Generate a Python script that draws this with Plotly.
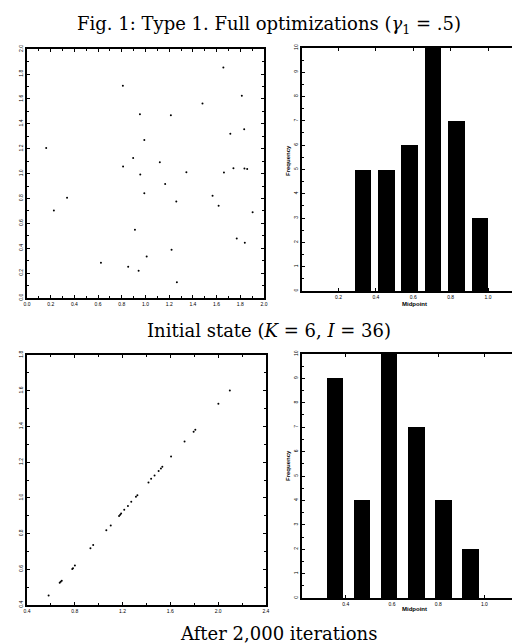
import plotly.graph_objects as go

# ---------------- data ----------------
init_x = [0.162, 0.227, 0.338, 0.624, 0.809, 0.811, 0.854, 0.896, 0.911, 0.942, 0.953, 0.956,
          0.990, 0.990, 1.010, 1.121, 1.166, 1.214, 1.220, 1.260, 1.265, 1.345, 1.481, 1.566,
          1.617, 1.657, 1.662, 1.716, 1.742, 1.770, 1.813, 1.833, 1.835, 1.838, 1.858, 1.904]
init_y = [1.206, 0.703, 0.805, 0.283, 1.706, 1.056, 0.251, 1.126, 0.548, 0.219, 1.476, 0.992,
          1.270, 0.842, 0.334, 1.091, 0.917, 1.468, 0.388, 0.775, 0.126, 1.011, 1.564, 0.821,
          0.741, 1.853, 1.008, 1.321, 1.043, 0.479, 1.626, 1.356, 1.040, 0.444, 1.037, 0.690]

final_x = [0.581, 0.674, 0.682, 0.691, 0.779, 0.785, 0.801, 0.931, 0.954, 1.064, 1.101, 1.171,
           1.180, 1.188, 1.214, 1.245, 1.273, 1.312, 1.324, 1.417, 1.439, 1.468, 1.502, 1.521,
           1.533, 1.606, 1.719, 1.795, 1.809, 2.002, 2.098]
final_y = [0.454, 0.525, 0.531, 0.536, 0.602, 0.606, 0.622, 0.718, 0.736, 0.819, 0.845, 0.899,
           0.905, 0.912, 0.933, 0.955, 0.978, 1.006, 1.015, 1.086, 1.107, 1.125, 1.150, 1.164,
           1.174, 1.232, 1.316, 1.370, 1.381, 1.527, 1.602]

init_mid = [0.33, 0.455, 0.58, 0.705, 0.83, 0.955]
init_freq = [5, 5, 6, 10, 7, 3]
final_mid = [0.352, 0.469, 0.587, 0.704, 0.822, 0.938]
final_freq = [9, 4, 10, 7, 4, 2]

title_top = "Fig. 1: Type 1. Full optimizations (<i>γ</i><sub>1</sub> = .5)"
title_mid = "Initial state (<i>K</i> = 6, <i>I</i> = 36)"
title_bot = "After 2,000 iterations"

# ---------------- figure ----------------
fig = go.Figure()

fig.add_trace(go.Scatter(x=init_x, y=init_y, mode="markers",
                         marker=dict(color="black", size=2), xaxis="x", yaxis="y"))
fig.add_trace(go.Bar(x=init_mid, y=init_freq, width=[0.089] * len(init_mid),
                     marker=dict(color="black", line=dict(width=0)), xaxis="x2", yaxis="y2"))
fig.add_trace(go.Scatter(x=final_x, y=final_y, mode="markers",
                         marker=dict(color="black", size=2), xaxis="x3", yaxis="y3"))
fig.add_trace(go.Bar(x=final_mid, y=final_freq, width=[0.072] * len(final_mid),
                     marker=dict(color="black", line=dict(width=0)), xaxis="x4", yaxis="y4"))

tickfont = dict(family="Liberation Sans", size=5, color="black")


def ax(domain, rng, tickvals, minor_d=None, angle=0, anchor=None):
    d = dict(domain=domain, range=rng, tickvals=tickvals,
             ticktext=[f"{v:.1f}" for v in tickvals],
             showgrid=False, zeroline=False, showline=True, linecolor="black",
             linewidth=1.5, mirror="allticks", ticks="inside", ticklen=3,
             tickcolor="black", tickwidth=1, tickfont=tickfont, tickangle=angle,
             automargin=False, anchor=anchor, fixedrange=True)
    if minor_d is not None:
        d["minor"] = dict(dtick=minor_d, ticks="inside", ticklen=2,
                          tickcolor="black", showgrid=False)
    return d


def r(a, b, s):
    out = []
    v = a
    while v <= b + 1e-9:
        out.append(round(v, 3))
        v += s
    return out


fig.update_layout(
    width=520, height=643,
    margin=dict(l=0, r=0, t=0, b=0),
    paper_bgcolor="white", plot_bgcolor="white",
    showlegend=False, bargap=0,
    xaxis=ax([0.0365, 0.4923], [0, 2.0], r(0, 2.0, 0.2), 0.1, 0, "y"),
    yaxis=ax([0.549, 0.936], [0, 2.0], r(0, 2.0, 0.2), 0.1, -90, "x"),
    xaxis2=ax([0.565, 0.998], [0.004, 1.208], r(0.2, 1.0, 0.2), None, 0, "y2"),
    yaxis2=dict(ax([0.560, 0.938], [0, 10], r(0, 10, 1), 0.5, -90, "x2"),
                ticktext=[str(v) for v in range(11)]),
    xaxis3=ax([0.0365, 0.496], [0.4, 2.4], r(0.4, 2.4, 0.4), 0.2, 0, "y3"),
    yaxis3=ax([0.0715, 0.4603], [0.4, 1.8], r(0.4, 1.8, 0.2), 0.1, -90, "x3"),
    xaxis4=ax([0.565, 0.998], [0.21, 1.184], r(0.4, 1.0, 0.2), None, 0, "y4"),
    yaxis4=dict(ax([0.0824, 0.4619], [0, 10], r(0, 10, 1), 0.5, -90, "x4"),
                ticktext=[str(v) for v in range(11)]),
)

serif = dict(family="DejaVu Serif", size=18, color="black")
small_bold = dict(family="Liberation Sans", size=6, color="black")

anns = [
    dict(text=title_top, x=0.502, y=1 - 17 / 643, font=serif),
    dict(text=title_mid, x=0.502, y=1 - 322 / 643, font=serif),
    dict(text=title_bot, x=0.52, y=1 - 625 / 643, font=serif),
    dict(text="<b>Midpoint</b>", x=(294 + 519) / 2 / 520, y=1 - 296 / 643, font=small_bold),
    dict(text="<b>Midpoint</b>", x=(294 + 519) / 2 / 520, y=1 - 601 / 643, font=small_bold),
    dict(text="<b>Frequency</b>", x=280 / 520, y=1 - 153 / 643, font=small_bold, textangle=-90),
    dict(text="<b>Frequency</b>", x=280 / 520, y=1 - 458 / 643, font=small_bold, textangle=-90),
]
for a in anns:
    a.update(xref="paper", yref="paper", showarrow=False, xanchor="center", yanchor="middle")
fig.update_layout(annotations=anns)

fig.write_html("out.html")
